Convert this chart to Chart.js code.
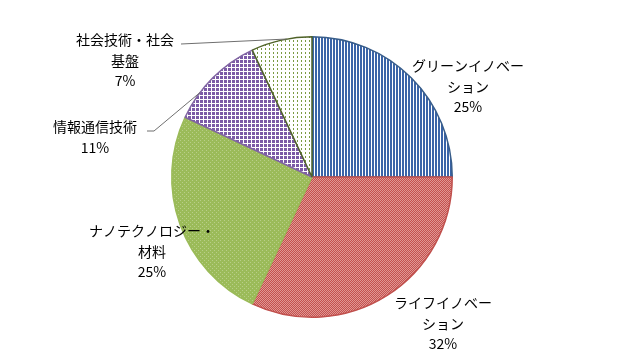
<!DOCTYPE html>
<html>
<head>
<meta charset="utf-8">
<script src="https://cdn.jsdelivr.net/npm/chart.js@4"></script>
<style>
html,body{margin:0;padding:0;background:#fff;}
#wrap{width:624px;height:357px;position:relative;}
</style>
</head>
<body>
<div id="wrap"><canvas id="c" width="624" height="357"></canvas></div>
<script>
// ---- data ----
const categories = ['グリーンイノベーション', 'ライフイノベーション', 'ナノテクノロジー・材料', '情報通信技術', '社会技術・社会基盤'];
const values = [25, 32, 25, 11, 7];
// wrapped display lines of each category label
const labelLines = [
  ['グリーンイノベー', 'ション'],
  ['ライフイノベー', 'ション'],
  ['ナノテクノロジー・', '材料'],
  ['情報通信技術'],
  ['社会技術・社会', '基盤']
];

// ---- layout / style ----
const labelPos = [[468, 66], [443, 303], [152, 231], [95, 127], [125, 40]];
const lineH = 20.5;
const leaders = [null, null, null, {from: [[147, 131], [154, 131]], frac: 0.3}, {from: [[181, 44]], frac: 0.59}];
const borderColors = ['#385d8a', '#c0504d', '#9bbb59', '#8064a2', '#4f6228'];

function makePattern(w, h, bg, fg, cells) {
  const cv = document.createElement('canvas');
  cv.width = w; cv.height = h;
  const g = cv.getContext('2d');
  g.fillStyle = bg; g.fillRect(0, 0, w, h);
  g.fillStyle = fg;
  cells.forEach(([x, y]) => g.fillRect(x, y, 1, 1));
  return g.createPattern(cv, 'repeat');
}
const ctx = document.getElementById('c').getContext('2d');
const fills = [
  makePattern(3, 1, '#ffffff', '#3a64a8', [[0, 0], [1, 0]]),
  makePattern(2, 2, '#c4514e', '#e09794', [[0, 0], [1, 1]]),
  makePattern(4, 4, '#9bbb59', '#b8cf88', [[0, 0], [2, 2]]),
  makePattern(4, 4, '#ffffff', '#7b5aa6', [[1, 0], [0, 1], [1, 1], [2, 1], [1, 2], [0, 0], [2, 0], [0, 2], [2, 2]]),
  makePattern(4, 4, '#ffffff', '#7b9a42', [[1, 0], [1, 1]])
];

const labelPlugin = {
  id: 'pieLabels',
  afterDatasetsDraw(chart) {
    const c = chart.ctx;
    const meta = chart.getDatasetMeta(0);
    const total = values.reduce((a, b) => a + b, 0);
    c.save();
    // leader lines
    c.strokeStyle = '#6f6f6f';
    c.lineWidth = 1;
    meta.data.forEach((arc, i) => {
      const L = leaders[i];
      if (!L) return;
      const p = arc.getProps(['x', 'y', 'startAngle', 'endAngle', 'outerRadius'], true);
      const a = p.startAngle + (p.endAngle - p.startAngle) * L.frac;
      const ex = p.x + Math.cos(a) * p.outerRadius;
      const ey = p.y + Math.sin(a) * p.outerRadius;
      c.beginPath();
      c.moveTo(L.from[0][0], L.from[0][1]);
      for (let k = 1; k < L.from.length; k++) c.lineTo(L.from[k][0], L.from[k][1]);
      c.lineTo(ex, ey);
      c.stroke();
    });
    // texts
    c.fillStyle = '#000000';
    c.font = '14px "Noto Sans CJK JP", "Noto Sans", sans-serif';
    c.textAlign = 'center';
    c.textBaseline = 'middle';
    labelLines.forEach((lines, i) => {
      const [x, y] = labelPos[i];
      const all = lines.concat([Math.round(values[i] / total * 100) + '%']);
      all.forEach((t, k) => c.fillText(t, x, y + k * lineH));
    });
    c.restore();
  }
};

new Chart(ctx, {
  type: 'pie',
  data: {
    labels: categories,
    datasets: [{
      data: values,
      backgroundColor: fills,
      borderColor: borderColors,
      borderWidth: 1.5
    }]
  },
  options: {
    responsive: false,
    animation: false,
    layout: {padding: {top: 36, bottom: 39, left: 0, right: 0}},
    plugins: {legend: {display: false}, tooltip: {enabled: false}}
  },
  plugins: [labelPlugin]
});
</script>
</body>
</html>
